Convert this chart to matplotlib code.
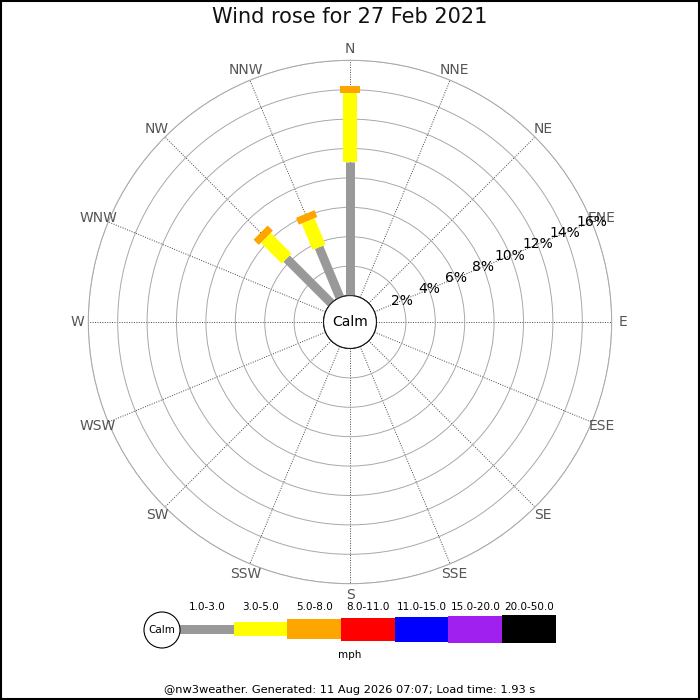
import numpy as np
import matplotlib
matplotlib.use("Agg")
from matplotlib import pyplot as plt
from matplotlib.patches import Rectangle, Circle

# data: percent of time per direction and speed band (mph)
directions = ["N", "NNE", "NE", "ENE", "E", "ESE", "SE", "SSE",
              "S", "SSW", "SW", "WSW", "W", "WNW", "NW", "NNW"]
band_labels = ["1.0-3.0", "3.0-5.0", "5.0-8.0", "8.0-11.0",
               "11.0-15.0", "15.0-20.0", "20.0-50.0"]
band_colors = ["#999999", "#ffff00", "#ffa500", "#ff0000",
               "#0000ff", "#a020f0", "#000000"]
band_1_3 = [9.1, 0, 0, 0, 0, 0, 0, 0, 0, 0, 0, 0, 0, 0, 4.3, 3.7]
band_3_5 = [4.65, 0, 0, 0, 0, 0, 0, 0, 0, 0, 0, 0, 0, 0, 2.0, 1.95]
band_5_8 = [0.5, 0, 0, 0, 0, 0, 0, 0, 0, 0, 0, 0, 0, 0, 0.5, 0.5]
ring_pcts = [2, 4, 6, 8, 10, 12, 14, 16]

title = "Wind rose for 27 Feb 2021"
footer = "@nw3weather. Generated: 11 Aug 2026 07:07; Load time: 1.93 s"

bands = [band_1_3, band_3_5, band_5_8]
widths_px = [9, 14, 20, 23, 25, 27, 28]  # bar thickness per band
px = 0.72  # points per pixel at dpi 100

fig = plt.figure(figsize=(7, 7), dpi=100)

# main rose
R = 261.7 / 700
ax = fig.add_axes([0.5 - R, 0.54 - R, 2 * R, 2 * R], projection="polar")
ax.set_theta_zero_location("N")
ax.set_theta_direction(-1)
ax.set_ylim(0, 16)
ax.set_rorigin(-1.8)
ax.set_rgrids(ring_pcts, labels=[""] * len(ring_pcts))
angles = np.arange(16) * 22.5
ax.set_thetagrids(angles, labels=[""] * 16)
ax.yaxis.grid(True, color="#a8a8a8", lw=0.7, ls="-")
ax.xaxis.grid(True, color="#444444", lw=0.7, ls=(0, (1, 1.5)))
ax.spines["polar"].set_color("#a8a8a8")
ax.spines["polar"].set_linewidth(0.7)
ax.tick_params(length=0)

theta = np.deg2rad(angles)
start = np.zeros(16)
for band, col, w in zip(bands, band_colors, widths_px):
    for t, s, v in zip(theta, start, band):
        if v > 0:
            ax.plot([t, t], [s, s + v], color=col, lw=w * px,
                    solid_capstyle="butt", zorder=3)
    start = start + np.array(band)

for t, name in zip(theta, directions):
    ax.text(t, 16.75, name, color="#555555", fontsize=10,
            ha="center", va="center")
for p in ring_pcts:
    ax.text(np.deg2rad(67.5), p, f"{p}%", color="black", fontsize=10,
            ha="center", va="center", zorder=4)

ax.add_artist(Circle((0.5, 0.5), 0.0505, transform=ax.transAxes,
                     facecolor="white", edgecolor="black", lw=0.8, zorder=5))
ax.text(0.5, 0.5, "Calm", transform=ax.transAxes, fontsize=10,
        ha="center", va="center", zorder=6)

fig.text(0.5, 1 - 17 / 700, title, fontsize=15, color="#111111",
         ha="center", va="center")

# legend strip, drawn in pixel units
lg = fig.add_axes([0, 0, 1, 1], zorder=-1)
lg.set_xlim(0, 700)
lg.set_ylim(700, 0)
lg.axis("off")
seg_x = 180
seg_len = 53.7
for lab, col, w in zip(band_labels, band_colors, widths_px):
    lg.add_patch(Rectangle((seg_x, 629 - w / 2), seg_len, w, color=col, lw=0))
    lg.text(seg_x + seg_len / 2, 607, lab, fontsize=7.5, ha="center", va="center")
    seg_x += seg_len
lg.add_patch(Circle((162, 630), 18, facecolor="white", edgecolor="black", lw=0.8))
lg.text(162, 630, "Calm", fontsize=7.5, ha="center", va="center")
lg.text(350, 655, "mph", fontsize=7.5, ha="center", va="center")
lg.text(350, 690, footer, fontsize=8.2, ha="center", va="center")
lg.add_patch(Rectangle((0.5, 0.5), 698.5, 698.5, fill=False, edgecolor="black", lw=1.5))

fig.savefig("out.png", dpi=100)
